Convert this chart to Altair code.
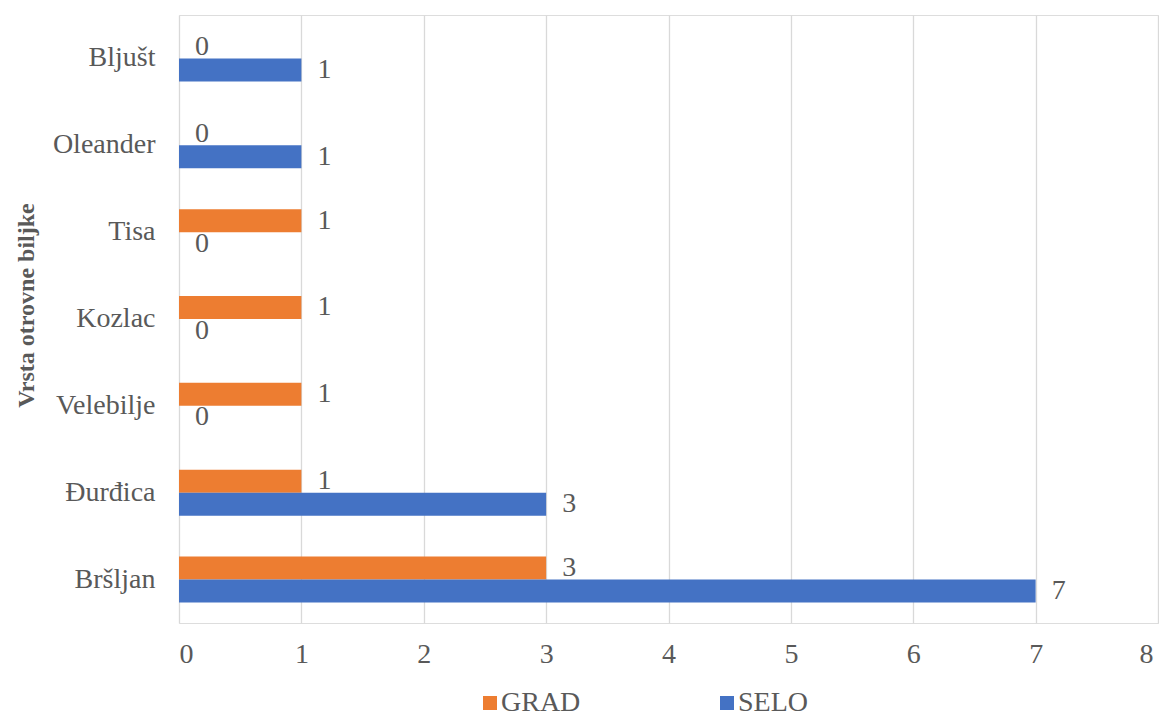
import altair as alt
import pandas as pd

categories = ["Bljušt", "Oleander", "Tisa", "Kozlac", "Velebilje", "Đurđica", "Bršljan"]
grad = [0, 0, 1, 1, 1, 1, 3]
selo = [1, 1, 0, 0, 0, 3, 7]
series = ["GRAD", "SELO"]
colors = ["#ED7D31", "#4472C4"]
x_ticks = [0, 1, 2, 3, 4, 5, 6, 7, 8]

rows = []
for c, g, s in zip(categories, grad, selo):
    rows.append({"biljka": c, "serija": "GRAD", "broj": g})
    rows.append({"biljka": c, "serija": "SELO", "broj": s})
df = pd.DataFrame(rows)

FONT = "Liberation Serif"
TXT = "#595959"

y_enc = alt.Y(
    "biljka:N",
    sort=categories,
    scale=alt.Scale(paddingInner=0.47, paddingOuter=0.235),
    axis=alt.Axis(
        title="Vrsta otrovne biljke",
        titleFont=FONT, titleFontSize=24, titleFontWeight="bold", titleColor=TXT,
        titleAngle=-90, titleBaseline="alphabetic", titleAlign="center",
        titleX=-146, titleY=290,
        labelFont=FONT, labelFontSize=28, labelColor=TXT, labelPadding=24,
        domain=False, ticks=False, grid=False,
    ),
)
x_enc = alt.X(
    "broj:Q",
    scale=alt.Scale(domain=[0, 8], nice=False),
    axis=alt.Axis(
        title=None, values=x_ticks, format="d",
        labelFont=FONT, labelFontSize=28, labelColor=TXT, labelPadding=17,
        labelOffset={"condition": {"test": "datum.value == 8", "value": -5}, "value": 0},
        domain=False, ticks=False, grid=True, gridColor="#D9D9D9", gridWidth=1.3,
    ),
)
yoff = alt.YOffset("serija:N", sort=series)

bars = alt.Chart(df).mark_bar().encode(
    y=y_enc,
    x=x_enc,
    yOffset=yoff,
    color=alt.Color(
        "serija:N",
        scale=alt.Scale(domain=series, range=colors),
        legend=alt.Legend(
            title=None, orient="none", direction="horizontal",
            legendX=297, legendY=674, padding=0,
            symbolType="square", symbolSize=196, symbolStrokeWidth=0,
            labelFont=FONT, labelFontSize=28, labelColor=TXT,
            labelOffset=alt.ExprRef(expr="-3"),
            columnPadding=132,
        ),
    ),
)

labels = alt.Chart(df).mark_text(
    align="left", baseline="middle", dx=16, font=FONT, fontSize=28, color=TXT
).encode(
    y=alt.Y("biljka:N", sort=categories),
    x=alt.X("broj:Q"),
    yOffset=yoff,
    text=alt.Text("broj:Q", format="d"),
)

chart = (
    alt.layer(bars, labels)
    .properties(
        width=979, height=608,
        autosize=alt.AutoSizeParams(type="none"),
        padding={"left": 171, "top": 7, "right": 1, "bottom": 94},
    )
    .configure_view(stroke=None)
    .configure(background="white")
)

chart.save("out.html", embed_options={"renderer": "svg", "actions": False})
